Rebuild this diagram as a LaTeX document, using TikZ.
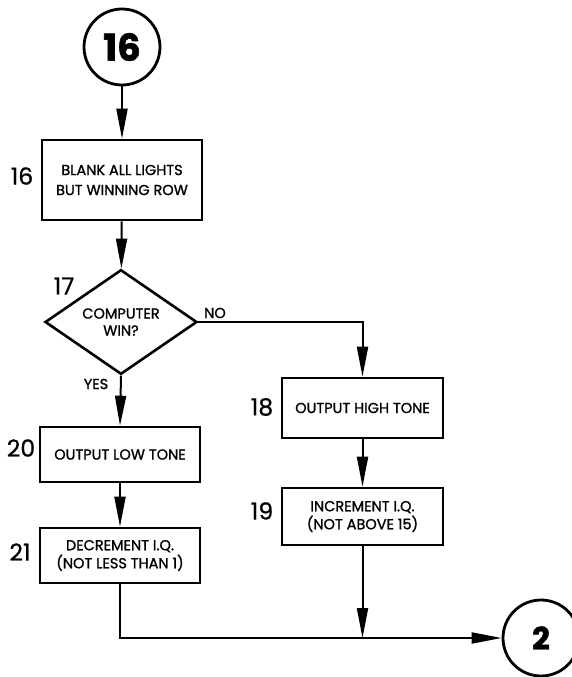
\documentclass[tikz,border=0pt]{standalone}
\usepackage{fontspec}
\setmainfont{Poppins}
\newfontfamily\medfont{Poppins}[FakeBold=1.2]
\newfontfamily\numfont{Poppins}[FakeBold=0.8]
\newfontfamily\heavyfont{Poppins}[BoldFeatures={FakeBold=1.5}]
\usetikzlibrary{arrows.meta,shapes.geometric}
\begin{document}
\begin{tikzpicture}[x=1pt,y=-1pt,
  boxnode/.style={draw,line width=2.6pt,rectangle,inner sep=0pt,align=center,font=\medfont\fontsize{14.5}{18}\selectfont},
  condnode/.style={draw,line width=2.6pt,diamond,inner sep=0pt,align=center,font=\medfont\fontsize{14.5}{17}\selectfont},
  connode/.style={draw,circle,line width=2.8pt,inner sep=0pt,minimum size=76pt},
  numlabel/.style={inner sep=0pt,font=\numfont\fontsize{23.5}{23.5}\selectfont},
  branchlabel/.style={inner sep=0pt,font=\medfont\fontsize{14.5}{14.5}\selectfont},
  flow/.style={line width=2pt,-{Triangle[length=30pt,width=11pt]}}]
\useasboundingbox (0,0) rectangle (572,677);
\node[connode,font=\heavyfont\bfseries\fontsize{37}{37}\selectfont] (c16) at (122,47) {16};
\node[boxnode,minimum width=160pt,minimum height=80pt,font=\medfont\fontsize{14.5}{20}\selectfont] (b16) at (122,180) {BLANK ALL LIGHTS\\BUT WINNING ROW};
\node[condnode,minimum width=152pt,minimum height=103pt] (d17) at (121,322) {COMPUTER\\WIN?};
\node[boxnode,minimum width=161pt,minimum height=60pt] (b18) at (362.5,408) {OUTPUT HIGH TONE};
\node[boxnode,minimum width=161pt,minimum height=57pt] (b19) at (362.5,516.5) {INCREMENT I.Q.\\(NOT ABOVE 15)};
\node[boxnode,minimum width=160pt,minimum height=55pt] (b20) at (120,454.5) {OUTPUT LOW TONE};
\node[boxnode,minimum width=160pt,minimum height=55pt] (b21) at (120,555.5) {DECREMENT I.Q.\\(NOT LESS THAN 1)};
\node[connode,font=\heavyfont\bfseries\fontsize{31}{31}\selectfont] (c2) at (541,638) {2};
\node[numlabel] (l16) at (22,176) {16};
\node[numlabel] (l17) at (64,286) {17};
\node[numlabel] (l18) at (262,407) {18};
\node[numlabel] (l19) at (262,511) {19};
\node[numlabel] (l20) at (21,448) {20};
\node[numlabel] (l21) at (20,552) {21};
\node[branchlabel] (no) at (215,313) {NO};
\node[branchlabel] (yes) at (96,384) {YES};
\draw[flow] (c16) -- (b16);
\draw[flow] (b16) -- (d17);
\draw[flow] (d17.east) -| (b18.north);
\draw[flow] (d17.south) -- (b20.north);
\draw[flow] (b18) -- (b19);
\draw[flow] (b20) -- (b21);
\draw[flow] (b21.south) |- (c2.west);
\coordinate (j) at (b19.south |- c2.west);
\draw[flow] (b19.south) -- (j);
\end{tikzpicture}
\end{document}
